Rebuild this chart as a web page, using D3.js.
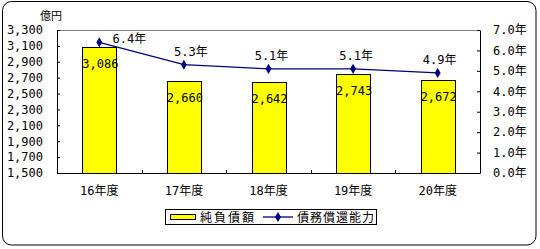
<!DOCTYPE html>
<html>
<head>
<meta charset="utf-8">
<script src="https://cdn.jsdelivr.net/npm/d3@7"></script>
<style>
  body { margin: 0; background: #fff; }
  svg text { font-family: 'DejaVu Sans Mono', 'Noto Sans CJK JP', monospace; font-size: 12px; fill: #000; }
</style>
</head>
<body>
<svg id="chart"></svg>
<script>
const years = ['16年度', '17年度', '18年度', '19年度', '20年度']
const debt = [3086, 2660, 2642, 2743, 2672]
const capacity = [6.4, 5.3, 5.1, 5.1, 4.9]
const leftTicks = [1500, 1700, 1900, 2100, 2300, 2500, 2700, 2900, 3100, 3300]
const rightTicks = [0, 1, 2, 3, 4, 5, 6, 7]

const W = 540
const H = 249
const margin = { top: 30, left: 57, right: 60, bottom: 76 }
const width = W - margin.left - margin.right
const height = H - margin.top - margin.bottom

const root = d3.select('#chart').attr('width', W).attr('height', H)

// outer rounded frame
root.append('rect')
  .attr('x', 2.5).attr('y', 1.5)
  .attr('width', 533.5).attr('height', 243.5)
  .attr('rx', 9)
  .attr('fill', 'none').attr('stroke', '#000')

const svg = root.append('g')
  .attr('transform', 'translate(' + margin.left + ',' + margin.top + ')')

const xScale = d3.scaleBand().domain(years).range([0, width]).paddingInner(0.6).paddingOuter(0.3)
const yScale = d3.scaleLinear().domain([1500, 3300]).range([height, 0])
const y2Scale = d3.scaleLinear().domain([0, 7]).range([height, 0])

// top border of plot area
svg.append('line')
  .attr('x1', 0).attr('x2', width).attr('y1', 0.5).attr('y2', 0.5)
  .attr('stroke', '#808080')

// bars
svg.selectAll('.bar')
  .data(years)
  .enter()
  .append('rect')
  .attr('class', 'bar')
  .attr('x', d => Math.round(xScale(d)) + 0.5)
  .attr('y', (d, i) => Math.round(yScale(debt[i])) + 0.5)
  .attr('width', Math.round(xScale.bandwidth()))
  .attr('height', (d, i) => height - Math.round(yScale(debt[i])))
  .attr('fill', '#ffff00')
  .attr('stroke', '#000')

svg.selectAll('.barLabel')
  .data(years)
  .enter()
  .append('text')
  .attr('class', 'barLabel')
  .attr('x', d => xScale(d) + xScale.bandwidth() / 2 + 1)
  .attr('y', (d, i) => yScale(debt[i]) + 21)
  .attr('text-anchor', 'middle')
  .text((d, i) => d3.format(',')(debt[i]))

// axes
const yAxis = svg.append('g')
  .call(d3.axisLeft(yScale).tickValues(leftTicks).tickSizeInner(-3).tickSizeOuter(0)
    .tickPadding(14).tickFormat(d3.format(',')))
const y2Axis = svg.append('g')
  .attr('transform', 'translate(' + width + ',0)')
  .call(d3.axisRight(y2Scale).tickValues(rightTicks).tickSizeInner(-3).tickSizeOuter(0)
    .tickPadding(13).tickFormat(d => d3.format('.1f')(d) + '年'))
const xAxis = svg.append('g')
  .attr('transform', 'translate(0,' + height + ')')
  .call(d3.axisBottom(xScale).tickSize(0).tickPadding(13))

svg.selectAll('.domain').attr('stroke', '#000')
svg.selectAll('.tick line').attr('stroke', '#000')
svg.selectAll('.tick text').style('font-size', '12px').attr('fill', '#000')

// category separators on x axis
const step = xScale.step()
svg.selectAll('.sep')
  .data(years.slice(1))
  .enter()
  .append('line')
  .attr('class', 'sep')
  .attr('x1', (d, i) => Math.round(xScale(d) - xScale.bandwidth() * 0.75) + 0.5)
  .attr('x2', (d, i) => Math.round(xScale(d) - xScale.bandwidth() * 0.75) + 0.5)
  .attr('y1', height).attr('y2', height - 3)
  .attr('stroke', '#000')

// line series
const line = d3.line()
  .x((d, i) => xScale(years[i]) + xScale.bandwidth() / 2)
  .y(d => y2Scale(d))

svg.append('path')
  .datum(capacity)
  .attr('d', line)
  .attr('fill', 'none')
  .attr('stroke', '#000080')
  .attr('stroke-width', 1.3)

const diamond = d3.symbol().type(d3.symbolDiamond).size(30)
svg.selectAll('.pt')
  .data(capacity)
  .enter()
  .append('path')
  .attr('class', 'pt')
  .attr('d', diamond)
  .attr('transform', (d, i) => 'translate(' + (xScale(years[i]) + xScale.bandwidth() / 2) + ',' + y2Scale(d) + ')')
  .attr('fill', '#000080')

const labelDx = [30, 7, 3, 3, 2]
svg.selectAll('.ptLabel')
  .data(capacity)
  .enter()
  .append('text')
  .attr('class', 'ptLabel')
  .attr('x', (d, i) => xScale(years[i]) + xScale.bandwidth() / 2 + labelDx[i])
  .attr('y', (d, i) => y2Scale(d) - (i === 0 ? -1 : 9))
  .attr('text-anchor', 'middle')
  .text(d => d3.format('.1f')(d) + '年')

// unit label
root.append('text')
  .attr('x', 40).attr('y', 20)
  .style('font-size', '11px')
  .text('億円')

// legend
const legend = root.append('g')
legend.append('rect')
  .attr('x', 165.5).attr('y', 209.5).attr('width', 211).attr('height', 15)
  .attr('fill', '#fff').attr('stroke', '#000')
legend.append('rect')
  .attr('x', 170.5).attr('y', 214.5).attr('width', 25).attr('height', 5)
  .attr('fill', '#ffff00').attr('stroke', '#000')
legend.append('text')
  .attr('x', 200).attr('y', 221.5)
  .style('letter-spacing', '2px')
  .text('純負債額')
legend.append('line')
  .attr('x1', 263).attr('x2', 293).attr('y1', 217).attr('y2', 217)
  .attr('stroke', '#000080').attr('stroke-width', 1.3)
legend.append('path')
  .attr('d', diamond)
  .attr('transform', 'translate(278,217)')
  .attr('fill', '#000080')
legend.append('text')
  .attr('x', 297).attr('y', 221.5)
  .style('letter-spacing', '1px')
  .text('債務償還能力')
</script>
</body>
</html>
